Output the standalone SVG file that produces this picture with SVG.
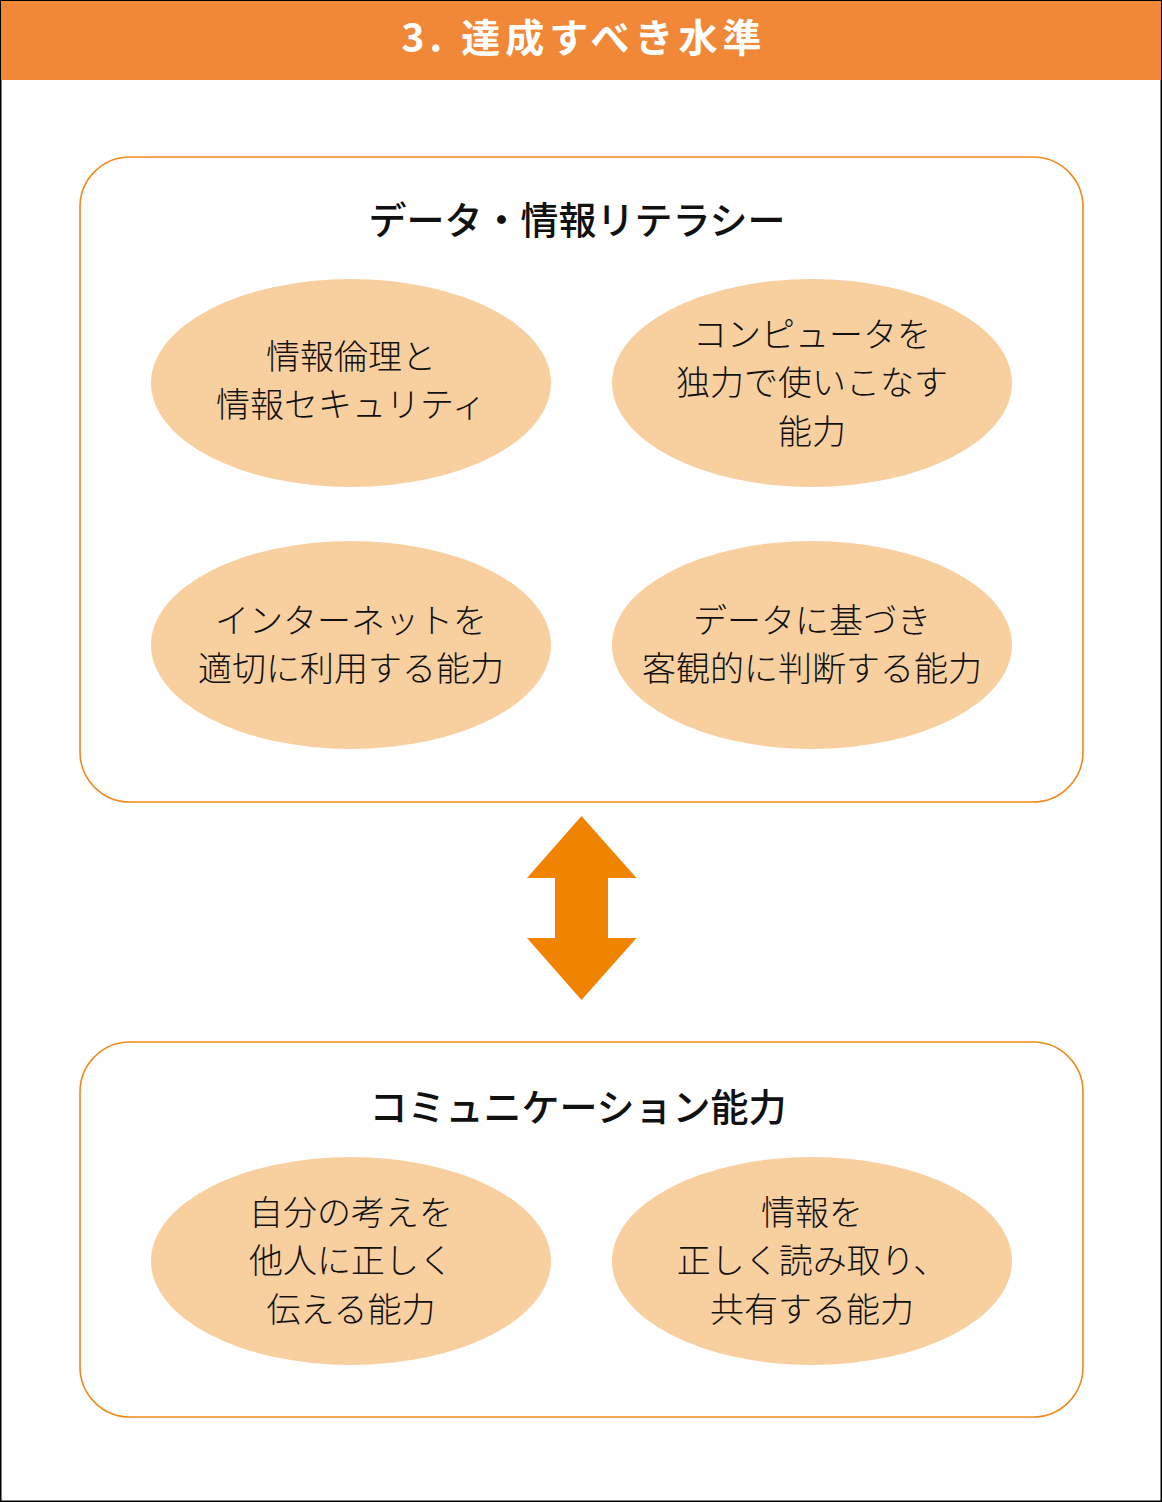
<svg xmlns="http://www.w3.org/2000/svg" width="1162" height="1502" viewBox="0 0 1162 1502">
<style>
.frame{fill:#fff;stroke:#000;stroke-width:2}
.box{fill:#fff;stroke:#F08A1C;stroke-width:1.6}
.ell{fill:#F8D0A0}
.t{font-family:"Noto Sans CJK JP","Noto Sans",sans-serif;font-size:34px;fill:#111;text-anchor:middle;font-weight:300}
.h{font-family:"Noto Sans CJK JP","Noto Sans",sans-serif;font-size:38px;fill:#111;text-anchor:middle;font-weight:500}
.hd{font-family:"Noto Sans CJK JP","Noto Sans",sans-serif;font-size:39px;fill:#fff;text-anchor:middle;font-weight:700;letter-spacing:5px}
</style>
<rect class="frame" x="0.5" y="0.5" width="1161" height="1501"/>
<g id="header">
<rect x="1" y="1" width="1160" height="79" fill="#F08838"/>
<text class="hd" x="584" y="52">3. 達成すべき水準</text>
</g>
<g id="box-data">
<rect class="box" x="80" y="157" width="1003" height="645" rx="50"/>
<text class="h" x="577" y="234">データ・情報リテラシー</text>
</g>
<g id="node-ethics">
<ellipse class="ell" cx="351" cy="383" rx="200" ry="104"/>
<text class="t" x="351" y="369">情報倫理と</text>
<text class="t" x="351" y="417">情報セキュリティ</text>
</g>
<g id="node-computer">
<ellipse class="ell" cx="812" cy="383" rx="200" ry="104"/>
<text class="t" x="812" y="347">コンピュータを</text>
<text class="t" x="812" y="395">独力で使いこなす</text>
<text class="t" x="812" y="444">能力</text>
</g>
<g id="node-internet">
<ellipse class="ell" cx="351" cy="645" rx="200" ry="104"/>
<text class="t" x="351" y="633">インターネットを</text>
<text class="t" x="351" y="681">適切に利用する能力</text>
</g>
<g id="node-judge">
<ellipse class="ell" cx="812" cy="645" rx="200" ry="104"/>
<text class="t" x="812" y="633">データに基づき</text>
<text class="t" x="812" y="681">客観的に判断する能力</text>
</g>
<g id="connectors">
<polygon points="581.5,816 636.5,878 608,878 608,938 636.5,938 581.5,1000 527,938 555,938 555,878 527,878" fill="#F08300"/>
</g>
<g id="box-comm">
<rect class="box" x="80" y="1042" width="1003" height="375" rx="50"/>
<text class="h" x="578" y="1121">コミュニケーション能力</text>
</g>
<g id="node-express">
<ellipse class="ell" cx="351" cy="1261" rx="200" ry="104"/>
<text class="t" x="351" y="1225">自分の考えを</text>
<text class="t" x="351" y="1273">他人に正しく</text>
<text class="t" x="351" y="1322">伝える能力</text>
</g>
<g id="node-share">
<ellipse class="ell" cx="812" cy="1261" rx="200" ry="104"/>
<text class="t" x="812" y="1225">情報を</text>
<text class="t" x="812" y="1273">正しく読み取り、</text>
<text class="t" x="812" y="1322">共有する能力</text>
</g>
</svg>
